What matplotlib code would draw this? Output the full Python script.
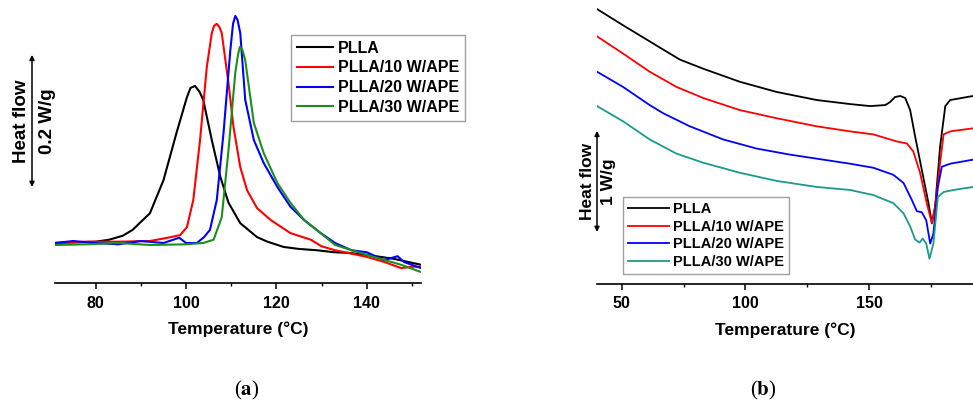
import matplotlib
matplotlib.use("Agg")
import matplotlib.pyplot as plt
from matplotlib.ticker import MultipleLocator
from matplotlib.transforms import blended_transform_factory

plt.rcParams["font.family"] = ["Liberation Sans", "DejaVu Sans"]
plt.rcParams["font.weight"] = "bold"
plt.rcParams["mathtext.fontset"] = "stix"

# ---- panel (a): crystallization exotherms, heat flow in W/g (offset) ----
labels = ["PLLA", "PLLA/10 W/APE", "PLLA/20 W/APE", "PLLA/30 W/APE"]

a_T_plla = [71, 80, 83, 86, 88.2, 90, 92, 95, 97.9, 100.2, 101, 102, 103, 103.8, 105.7, 107.6, 109.4,
            112, 115.7, 118, 121.6, 125, 129, 132.8, 136, 140, 146, 152]
a_hf_plla = [0.0, 0.002, 0.005, 0.011, 0.020, 0.032, 0.045, 0.095, 0.167, 0.221, 0.235, 0.238, 0.229, 0.217, 0.156, 0.100, 0.061,
             0.030, 0.009, 0.002, -0.006, -0.009, -0.011, -0.014, -0.015, -0.018, -0.024, -0.033]

a_T_10 = [71, 78, 85, 92, 96, 98.7, 100.2, 101.6, 103.1, 104.6, 105.7, 106.2, 106.8, 107.4, 107.9, 109.4, 110.5,
          112, 113.5, 115.7, 118.7, 123.1, 127.6, 130, 133, 140, 144, 147.6, 150, 152]
a_hf_10 = [0.0, 0.002, 0.002, 0.003, 0.008, 0.012, 0.024, 0.065, 0.156, 0.267, 0.318, 0.329, 0.332, 0.327, 0.318, 0.242, 0.176,
           0.115, 0.080, 0.053, 0.035, 0.015, 0.005, -0.005, -0.011, -0.021, -0.029, -0.038, -0.036, -0.036]

a_T_20 = [71, 75, 80, 85, 90, 95, 98.5, 100, 102.4, 104, 105.3, 106.8, 108.3, 109.8, 110.4, 110.9, 111.4,
          112, 113.1, 115, 117.2, 120.2, 123.1, 126.1, 129.8, 133, 136.6, 140, 143.8, 146.8, 148.3, 152]
a_hf_20 = [0.0, 0.003, 0.0, -0.002, 0.003, 0.0, 0.008, 0.0, 0.0, 0.009, 0.020, 0.065, 0.167, 0.292, 0.332, 0.344, 0.338,
           0.318, 0.217, 0.156, 0.121, 0.085, 0.055, 0.035, 0.015, 0.0, -0.011, -0.014, -0.026, -0.020, -0.029, -0.038]

a_T_30 = [71, 78, 85, 92, 100, 103.8, 106.1, 107.9, 109.4, 110.9, 111.5, 111.9, 112.5, 113.1, 115, 117.2,
          120.2, 123.1, 126.1, 129.8, 133, 140, 147.6, 152]
a_hf_30 = [-0.003, -0.002, 0.0, -0.003, -0.002, 0.0, 0.005, 0.039, 0.141, 0.258, 0.285, 0.297, 0.292, 0.277, 0.182, 0.136,
           0.091, 0.061, 0.035, 0.015, -0.003, -0.018, -0.033, -0.044]

# ---- panel (b): second heating, heat flow in W/g (offset) ----
b_T_plla = [40, 50.5, 61.3, 66.7, 73.5, 82.9, 97.8, 112.6, 128.8, 142.3, 150.4, 156.5, 158.5, 160.5, 162.6,
            164.6, 166.6, 168.6, 171.3, 174, 175.4, 176.7, 178.7, 180.8, 182.8, 192]
b_hf_plla = [2.72, 2.56, 2.40, 2.32, 2.22, 2.13, 2.00, 1.90, 1.82, 1.78, 1.76, 1.77, 1.80, 1.85, 1.86,
             1.84, 1.72, 1.46, 1.13, 0.80, 0.60, 0.77, 1.36, 1.76, 1.82, 1.86]

b_T_10 = [40, 50.5, 61.3, 72.1, 82.9, 97.8, 112.6, 128.8, 142.3, 151.7, 161.2, 165.3, 167.9, 170.6, 173.3,
          175.4, 176.7, 178.7, 180.1, 182.8, 192]
b_hf_10 = [2.45, 2.28, 2.10, 1.95, 1.84, 1.72, 1.64, 1.56, 1.51, 1.48, 1.41, 1.39, 1.31, 1.10, 0.80,
           0.60, 0.77, 1.20, 1.48, 1.51, 1.54]

b_T_20 = [40, 50.5, 61.3, 66.7, 77.5, 91, 104.5, 118, 131.5, 142.3, 151.7, 159.8, 163.9, 167.3, 169.3,
          171.3, 173.1, 174.7, 176, 177.8, 179.4, 182.8, 192]
b_hf_20 = [2.10, 1.95, 1.77, 1.69, 1.56, 1.43, 1.34, 1.28, 1.23, 1.19, 1.15, 1.08, 1.00, 0.83, 0.72,
           0.71, 0.63, 0.40, 0.50, 0.96, 1.16, 1.19, 1.23]

b_T_30 = [40, 50.5, 61.3, 72.1, 82.9, 97.8, 112.6, 128.8, 142.3, 151.7, 159.8, 163.9, 166.6, 168.6, 170.4,
          171.7, 173.1, 174.4, 176, 177.8, 180.1, 184.1, 192]
b_hf_30 = [1.76, 1.61, 1.43, 1.29, 1.20, 1.10, 1.02, 0.96, 0.93, 0.88, 0.80, 0.70, 0.57, 0.44, 0.41,
           0.45, 0.40, 0.25, 0.40, 0.86, 0.91, 0.93, 0.96]

colors_a = ["black", "#ff0000", "#0000ff", "#1a8f1a"]
colors_b = ["black", "#ff0000", "#0000ff", "#1a9a8a"]

W, H = 973, 403
fig = plt.figure(figsize=(W / 100, H / 100), dpi=100)


def style_axis(ax):
    for s in ["top", "right", "left"]:
        ax.spines[s].set_visible(False)
    ax.spines["bottom"].set_linewidth(1.2)
    ax.set_yticks([])
    ax.tick_params(axis="x", which="major", direction="out", length=4, width=1.1, pad=5, labelsize=11.5)
    ax.tick_params(axis="x", which="minor", direction="out", length=2.5, width=1.0)
    for lab in ax.get_xticklabels():
        lab.set_fontweight("bold")
    ax.set_xlabel("Temperature (°C)", fontsize=12.5, fontweight="bold", labelpad=8)


def style_legend(leg):
    leg.get_frame().set_edgecolor("#888888")
    leg.get_frame().set_linewidth(1.0)
    for t in leg.get_texts():
        t.set_fontweight("bold")


def scale_bar(ax, x_arrow, y0, y1, x_left, x_right, txt, fs):
    tr = blended_transform_factory(fig.transFigure, ax.transData)
    ax.annotate("", xy=(x_arrow, y1), xytext=(x_arrow, y0), xycoords=tr, textcoords=tr,
                annotation_clip=False,
                arrowprops=dict(arrowstyle="<|-|>", color="black", lw=1.1, mutation_scale=7,
                                shrinkA=0, shrinkB=0))
    ym = (y0 + y1) / 2
    ax.text(x_left, ym, "Heat flow", transform=tr, rotation=90, ha="center", va="center",
            fontsize=fs, fontweight="bold")
    ax.text(x_right, ym, txt, transform=tr, rotation=90, ha="center", va="center",
            fontsize=fs, fontweight="bold")


# panel (a)
ax1 = fig.add_axes([55 / W, 1 - 283 / H, (421 - 55) / W, (283 - 10) / H])
for T, hf, c, lab in zip([a_T_plla, a_T_10, a_T_20, a_T_30], [a_hf_plla, a_hf_10, a_hf_20, a_hf_30], colors_a, labels):
    ax1.plot(T, hf, color=c, lw=1.5, label=lab, solid_joinstyle="round")
ax1.set_xlim(71, 152)
ax1.set_ylim(-0.0606, 0.353)
ax1.xaxis.set_major_locator(MultipleLocator(20))
ax1.xaxis.set_minor_locator(MultipleLocator(10))
style_axis(ax1)
leg1 = ax1.legend(loc="upper left", bbox_to_anchor=(291 / W, 1 - 35 / H), bbox_transform=fig.transFigure,
                  fontsize=11.5, frameon=True, fancybox=False, handlelength=2.3, handletextpad=0.3,
                  labelspacing=0.3, borderpad=0.35, borderaxespad=0)
style_legend(leg1)
scale_bar(ax1, 32 / W, 0.085, 0.285, 21 / W, 47 / W, "0.2 W/g", 13.5)

# panel (b)
ax2 = fig.add_axes([597 / W, 1 - 284 / H, 1 - 597 / W, (284 - 5) / H])
for T, hf, c, lab in zip([b_T_plla, b_T_10, b_T_20, b_T_30], [b_hf_plla, b_hf_10, b_hf_20, b_hf_30], colors_b, labels):
    ax2.plot(T, hf, color=c, lw=1.3, label=lab, solid_joinstyle="round")
ax2.set_xlim(40, 192)
ax2.set_ylim(0, 2.76)
ax2.xaxis.set_major_locator(MultipleLocator(50))
ax2.xaxis.set_minor_locator(MultipleLocator(25))
style_axis(ax2)
leg2 = ax2.legend(loc="upper left", bbox_to_anchor=(623 / W, 1 - 197 / H), bbox_transform=fig.transFigure,
                  fontsize=10.5, frameon=True, fancybox=False, handlelength=2.8, handletextpad=0.3,
                  labelspacing=0.25, borderpad=0.35, borderaxespad=0)
style_legend(leg2)
scale_bar(ax2, 597 / W, 0.515, 1.515, 587 / W, 608 / W, "1 W/g", 12.5)

# panel letters
fig.text(247 / W, 1 - 390 / H, r"($\mathbf{a}$)", ha="center", va="center", fontsize=15,
         family="Liberation Serif", fontweight="normal")
fig.text(763 / W, 1 - 390 / H, r"($\mathbf{b}$)", ha="center", va="center", fontsize=15,
         family="Liberation Serif", fontweight="normal")

fig.savefig("out.png", dpi=100)
